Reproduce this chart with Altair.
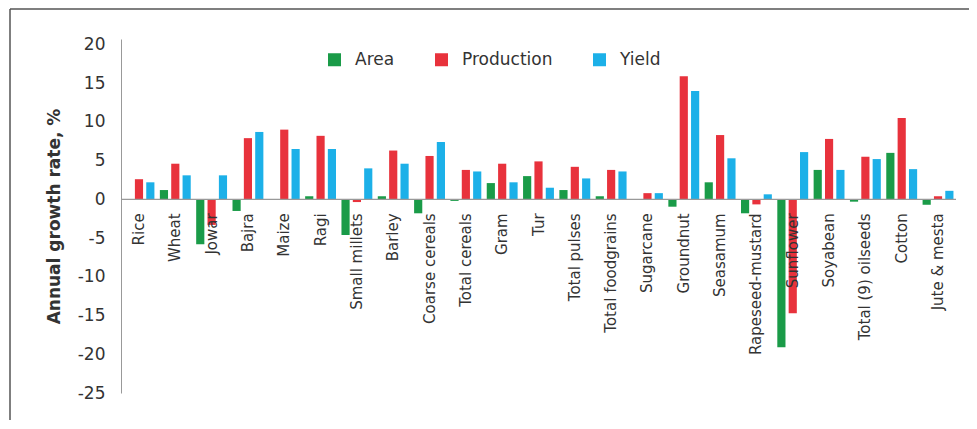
import altair as alt
import pandas as pd

crops = ["Rice", "Wheat", "Jowar", "Bajra", "Maize", "Ragi", "Small millets", "Barley",
         "Coarse cereals", "Total cereals", "Gram", "Tur", "Total pulses", "Total foodgrains",
         "Sugarcane", "Groundnut", "Seasamum", "Rapeseed-mustard", "Sunflower", "Soyabean",
         "Total (9) oilseeds", "Cotton", "Jute & mesta"]
area = [0.0, 1.2, -5.8, -1.5, 0.0, 0.4, -4.6, 0.4, -1.8, -0.2, 2.1, 3.0, 1.2, 0.4,
        0.0, -0.95, 2.2, -1.8, -19.1, 3.8, -0.3, 6.0, -0.7]
production = [2.6, 4.6, -3.3, 7.9, 9.0, 8.2, -0.35, 6.3, 5.6, 3.8, 4.6, 4.9, 4.2, 3.8,
              0.8, 15.9, 8.3, -0.65, -14.7, 7.8, 5.5, 10.5, 0.4]
yield_ = [2.2, 3.1, 3.1, 8.7, 6.5, 6.5, 4.0, 4.6, 7.4, 3.6, 2.2, 1.5, 2.7, 3.6,
          0.8, 14.0, 5.3, 0.65, 6.1, 3.8, 5.2, 3.9, 1.1]
series = ["Area", "Production", "Yield"]
colors = ["#1a9b48", "#e8323c", "#1cb0e8"]
y_ticks = [20, 15, 10, 5, 0, -5, -10, -15, -20, -25]

rows = []
for s, vals in zip(series, [area, production, yield_]):
    for c, v in zip(crops, vals):
        rows.append({"crop": c, "series": s, "value": v})
df = pd.DataFrame(rows)

FONT = "DejaVu Sans"

xscale = alt.Scale(paddingInner=0.15, paddingOuter=0.07)
yscale = alt.Scale(domain=[-25, 20.7], nice=False, zero=False)
yaxis = alt.Axis(values=y_ticks, title="Annual growth rate, %", grid=False,
                 ticks=False, labelPadding=16, labelFontSize=17, labelFont=FONT,
                 labelColor="#333", domainColor="#999", titleFont=FONT,
                 titleFontSize=17, titleFontWeight="bold", titleColor="#333",
                 titlePadding=14, labelFlush=False, labelOverlap=False,
                 labelExpr="datum.value + ''")

bars = alt.Chart(df).mark_bar().encode(
    x=alt.X("crop:N", sort=crops, axis=None, scale=xscale),
    xOffset=alt.XOffset("series:N", sort=series, scale=alt.Scale(paddingInner=0.28)),
    y=alt.Y("value:Q", scale=yscale, axis=yaxis, title="Annual growth rate, %"),
    color=alt.Color("series:N",
                    scale=alt.Scale(domain=series, range=colors),
                    legend=alt.Legend(title=None, orient="none", direction="horizontal",
                                      legendX=205, legendY=12, symbolType="square",
                                      symbolSize=169, symbolStrokeWidth=0,
                                      labelFontSize=17, labelFont=FONT, labelColor="#333",
                                      labelOffset=12, columnPadding=38)),
)

zero = alt.Chart(pd.DataFrame({"value": [0]})).mark_rule(color="#999", strokeWidth=1.2).encode(
    y=alt.Y("value:Q", scale=yscale, axis=yaxis, title="Annual growth rate, %")
)

labels = alt.Chart(pd.DataFrame({"crop": crops, "value": [0] * len(crops)})).mark_text(
    angle=270, align="right", baseline="middle", dx=-14, fontSize=15, font=FONT, color="#333"
).encode(
    x=alt.X("crop:N", sort=crops, axis=None, scale=xscale),
    y=alt.Y("value:Q", scale=yscale, axis=yaxis, title="Annual growth rate, %"),
    text="crop:N",
)

one = pd.DataFrame({"a": [0]})
frame_top = alt.Chart(one).mark_rule(color="#555", strokeWidth=1.5).encode(
    x=alt.value(-111), x2=alt.value(856), y=alt.value(-30)
)
frame_left = alt.Chart(one).mark_rule(color="#555", strokeWidth=1.5).encode(
    x=alt.value(-111), y=alt.value(-30), y2=alt.value(390)
)

chart = alt.layer(bars, zero, labels, frame_top, frame_left).properties(
    width=835, height=354,
    padding={"left": 113, "top": 31, "right": 13, "bottom": 27},
    autosize=alt.AutoSizeParams(type="none"),
).configure_view(stroke=None)

chart.save("out.html", embed_options={"renderer": "svg", "actions": False})
